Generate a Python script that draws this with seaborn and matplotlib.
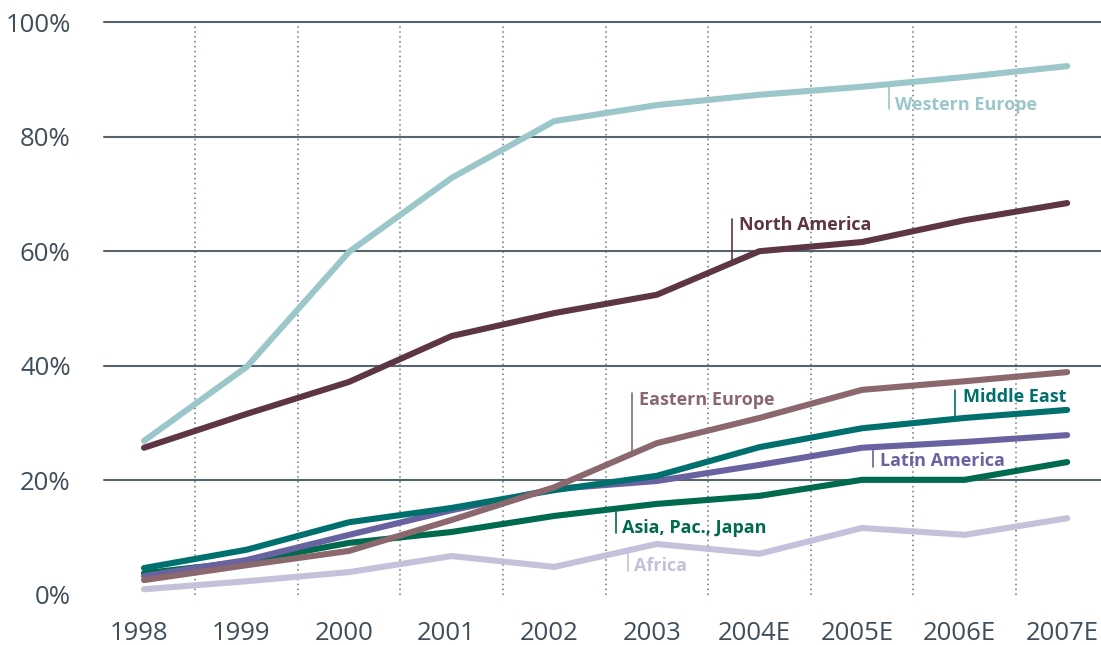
import numpy as np
import pandas as pd
import matplotlib
matplotlib.use("Agg")
import matplotlib.pyplot as plt
import seaborn as sns

years = ["1998", "1999", "2000", "2001", "2002", "2003", "2004E", "2005E", "2006E", "2007E"]

western_europe = [26.9, 39.8, 59.9, 72.8, 82.7, 85.5, 87.3, 88.7, 90.4, 92.3]
north_america = [25.7, 31.6, 37.2, 45.2, 49.2, 52.4, 60.0, 61.6, 65.4, 68.4]
eastern_europe = [2.6, 5.2, 7.7, 13.1, 18.8, 26.5, 30.9, 35.8, 37.3, 38.9]
middle_east = [4.7, 7.9, 12.7, 15.2, 18.3, 20.8, 25.8, 29.1, 30.9, 32.3]
latin_america = [3.3, 6.1, 10.5, 14.8, 18.5, 19.9, 22.7, 25.7, 26.7, 27.9]
asia_pac_japan = [3.8, 5.8, 9.1, 11.0, 13.8, 15.9, 17.3, 20.1, 20.1, 23.2]
africa = [1.0, 2.4, 4.0, 6.8, 4.9, 8.9, 7.2, 11.7, 10.5, 13.4]

regions = ["Western Europe", "North America", "Eastern Europe", "Middle East",
           "Latin America", "Asia, Pac., Japan", "Africa"]
series = [western_europe, north_america, eastern_europe, middle_east,
          latin_america, asia_pac_japan, africa]

colors = {
    "Western Europe": "#9cc7ca",
    "North America": "#5e3545",
    "Eastern Europe": "#8b686d",
    "Middle East": "#00706f",
    "Latin America": "#6862a0",
    "Asia, Pac., Japan": "#006a4f",
    "Africa": "#c5c1da",
}

# label anchor (x, y of text) and leader line (x, y0, y1), in data units
label_pos = {
    "Western Europe": (7.32, 85.5, 7.26, 84.8, 88.6),
    "North America": (5.80, 64.5, 5.73, 58.0, 65.7),
    "Eastern Europe": (4.83, 34.0, 4.76, 25.1, 35.3),
    "Middle East": (7.98, 34.5, 7.91, 31.2, 35.8),
    "Latin America": (7.18, 23.4, 7.11, 22.3, 25.8),
    "Asia, Pac., Japan": (4.66, 11.7, 4.60, 10.8, 14.4),
    "Africa": (4.78, 5.1, 4.72, 4.2, 7.5),
}

df = pd.DataFrame({
    "x": np.tile(np.arange(len(years)), len(regions)),
    "value": np.concatenate(series),
    "region": np.repeat(regions, len(years)),
})

sns.set_theme(style="white")
plt.rcParams["font.family"] = ["Open Sans", "DejaVu Sans"]

text_color = "#3f4e5a"
grid_color = "#57646d"

fig = plt.figure(figsize=(11.01, 6.45), dpi=100)
ax = fig.add_axes([104 / 1101, 50 / 645, 997 / 1101, 573 / 645])

for k in range(len(years) - 1):
    ax.axvline(k + 0.5, ymin=0, ymax=1, color="#6a747c", linestyle=(0, (1, 2.2)),
               linewidth=1.1, zorder=1)
for yv in [20, 40, 60, 80, 100]:
    ax.axhline(yv, color=grid_color, linewidth=1.5, zorder=1, clip_on=False)

sns.lineplot(data=df, x="x", y="value", hue="region", palette=colors,
             hue_order=regions[::-1], linewidth=4.4, legend=False, ax=ax,
             zorder=3)
for line in ax.get_lines():
    line.set_solid_capstyle("round")
    line.set_solid_joinstyle("round")
    line.set_clip_on(False)

for name in regions:
    tx, ty, lx, ly0, ly1 = label_pos[name]
    ax.plot([lx, lx], [ly0, ly1], color=colors[name], linewidth=1.2, zorder=4)
    ax.text(tx, ty, name, color=colors[name], fontsize=13, fontweight="bold",
            ha="left", va="center", zorder=5)

ax.set_xlim(-0.39, 9.33)
ax.set_ylim(0, 100)
ax.set_xticks(np.arange(len(years)) - 0.05)
ax.set_xticklabels(years)
ax.set_yticks([0, 20, 40, 60, 80, 100])
ax.set_yticklabels([f"{v}%" for v in [0, 20, 40, 60, 80, 100]])
ax.tick_params(axis="both", length=0, labelsize=18.5, labelcolor=text_color)
for lab in ax.get_xticklabels() + ax.get_yticklabels():
    lab.set_fontweight("medium")
ax.tick_params(axis="y", pad=24)
ax.tick_params(axis="x", pad=19)
ax.set_xlabel("")
ax.set_ylabel("")
for s in ax.spines.values():
    s.set_visible(False)

fig.savefig("out.png", dpi=100)
